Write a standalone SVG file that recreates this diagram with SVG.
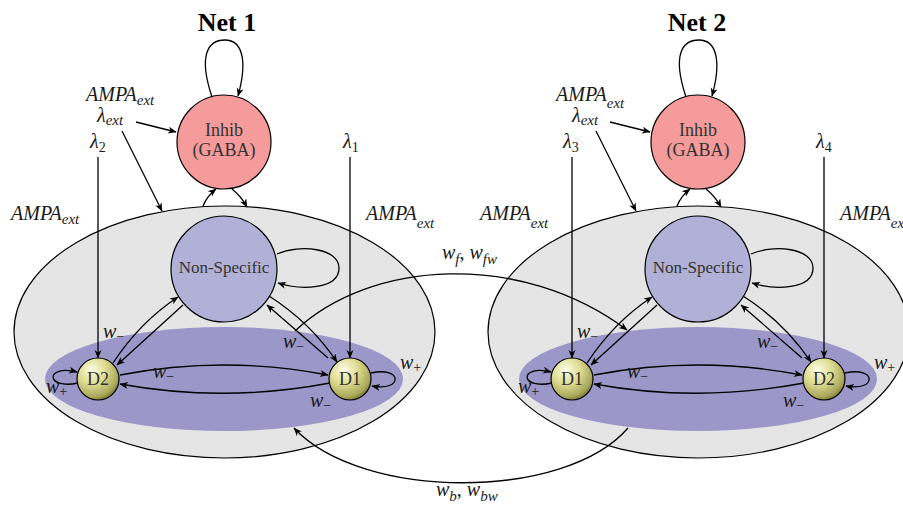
<svg xmlns="http://www.w3.org/2000/svg" width="903" height="507" viewBox="0 0 903 507">
<style>
.node{fill:#333;font-size:17px;text-anchor:middle}
.title{font-weight:bold;font-size:26px;text-anchor:middle;fill:#000}
.c{fill:none;stroke:#000;stroke-width:1.3;marker-end:url(#ah)}
.big{fill:#e5e5e5;stroke:#000;stroke-width:1.2}
.pool{fill:#9b97c9}
.ns{fill:#b1b0d6;stroke:#000;stroke-width:1.2}
.inh{fill:#f59b9b;stroke:#000;stroke-width:1.2}
.d{fill:url(#ball);stroke:#000;stroke-width:1.2}
</style>
<defs>
<marker id="ah" markerUnits="userSpaceOnUse" markerWidth="9" markerHeight="8" refX="8" refY="3.5" orient="auto">
<path d="M0,0 L8.5,3.5 L0,7 L2.5,3.5 Z" fill="#000"/>
</marker>
<radialGradient id="ball" cx="0.38" cy="0.32" r="0.72" fx="0.35" fy="0.28">
<stop offset="0" stop-color="#fdfde8"/>
<stop offset="0.45" stop-color="#dedd92"/>
<stop offset="0.85" stop-color="#a9a75a"/>
<stop offset="1" stop-color="#77752e"/>
</radialGradient>
</defs>

<g font-family="Liberation Serif, DejaVu Serif, serif" fill="#1a1a1a">
<g id="net1-pop">
<ellipse class="big" cx="224.5" cy="332" rx="210.5" ry="126"/>
</g>
<g id="net1-pool">
<ellipse class="pool" cx="224" cy="379" rx="179" ry="52"/>
</g>
<g id="net2-pop">
<ellipse class="big" cx="698.5" cy="332" rx="210.5" ry="126"/>
</g>
<g id="net2-pool">
<ellipse class="pool" cx="698" cy="379" rx="179" ry="52"/>
</g>

<g id="net1-ns">
<circle class="ns" cx="224" cy="269" r="53"/>
<text class="node" x="224" y="273">Non-Specific</text>
</g>
<g id="net1-inhib">
<circle class="inh" cx="224" cy="142" r="47"/>
<text class="node" x="224" y="136" style="font-size:18px">Inhib</text>
<text class="node" x="224" y="156" style="font-size:18px">(GABA)</text>
</g>
<g id="net1-d2">
<circle class="d" cx="98" cy="379" r="21"/>
<text class="node" x="98" y="385" style="font-size:18px">D2</text>
</g>
<g id="net1-d1">
<circle class="d" cx="350" cy="379" r="21"/>
<text class="node" x="350" y="385" style="font-size:18px">D1</text>
</g>

<g id="net2-ns">
<circle class="ns" cx="698" cy="269" r="53"/>
<text class="node" x="698" y="273">Non-Specific</text>
</g>
<g id="net2-inhib">
<circle class="inh" cx="698" cy="142" r="47"/>
<text class="node" x="698" y="136" style="font-size:18px">Inhib</text>
<text class="node" x="698" y="156" style="font-size:18px">(GABA)</text>
</g>
<g id="net2-d1">
<circle class="d" cx="572" cy="379" r="21"/>
<text class="node" x="572" y="385" style="font-size:18px">D1</text>
</g>
<g id="net2-d2">
<circle class="d" cx="824" cy="379" r="21"/>
<text class="node" x="824" y="385" style="font-size:18px">D2</text>
</g>

<g id="connectors">
<path class="c" d="M212,97 C198,55 208,40 225,40 C242,40 248,60 238,96"/>
<path class="c" d="M136,122 L176,132"/>
<path class="c" d="M122,131 L162,211"/>
<path class="c" d="M203,206 Q207,196 216,189"/>
<path class="c" d="M232,189 Q241,196 247,207"/>
<path class="c" d="M98,157 L98,358"/>
<path class="c" d="M350,157 L350,358"/>
<path class="c" d="M277,254 C300,244 339,248 339,268 C339,290 300,290 278,283"/>
<path class="c" d="M113,363 Q140,322 178,297"/>
<path class="c" d="M183,305 L117,365"/>
<path class="c" d="M269,296 Q310,322 337,362"/>
<path class="c" d="M328,358 L267,305"/>
<path class="c" d="M120,375 Q224,355 328,375"/>
<path class="c" d="M330,383 Q224,403 120,384"/>
<path class="c" d="M78,383 C45,390 45,364 77,372"/>
<path class="c" d="M371,373 C403,366 403,392 372,386"/>
<path class="c" d="M686,97 C672,55 682,40 699,40 C716,40 722,60 712,96"/>
<path class="c" d="M610,122 L650,132"/>
<path class="c" d="M596,131 L636,211"/>
<path class="c" d="M677,206 Q681,196 690,189"/>
<path class="c" d="M706,189 Q715,196 721,207"/>
<path class="c" d="M572,157 L572,358"/>
<path class="c" d="M824,157 L824,358"/>
<path class="c" d="M751,254 C774,244 813,248 813,268 C813,290 774,290 752,283"/>
<path class="c" d="M587,363 Q614,322 652,297"/>
<path class="c" d="M657,305 L591,365"/>
<path class="c" d="M743,296 Q784,322 811,362"/>
<path class="c" d="M802,358 L741,305"/>
<path class="c" d="M594,375 Q698,355 802,375"/>
<path class="c" d="M804,383 Q698,403 594,384"/>
<path class="c" d="M552,383 C519,390 519,364 551,372"/>
<path class="c" d="M845,373 C877,366 877,392 846,386"/>
<path class="c" d="M295,331 C370,260 520,250 627,330"/>
<path class="c" d="M628,428 C565,501 362,501 294,428"/>
</g>

<g id="labels" font-style="italic" font-size="20">
<text class="title" x="227" y="31" font-style="normal">Net 1</text>
<text class="title" x="697" y="31" font-style="normal">Net 2</text>

<text x="86" y="101">AMPA<tspan font-size="15" dy="4">ext</tspan></text>
<text x="97" y="122">λ<tspan font-size="15" dy="3">ext</tspan></text>
<text x="90" y="148">λ<tspan font-size="14" font-style="normal" dy="4">2</tspan></text>
<text x="343" y="148">λ<tspan font-size="14" font-style="normal" dy="4">1</tspan></text>
<text x="11" y="220">AMPA<tspan font-size="15" dy="4">ext</tspan></text>
<text x="366" y="220">AMPA<tspan font-size="15" dy="8">ext</tspan></text>
<text x="103" y="338">w<tspan font-size="14" font-style="normal" dy="3">−</tspan></text>
<text x="153" y="378">w<tspan font-size="14" font-style="normal" dy="3">−</tspan></text>
<text x="283" y="348">w<tspan font-size="14" font-style="normal" dy="3">−</tspan></text>
<text x="310" y="407">w<tspan font-size="14" font-style="normal" dy="3">−</tspan></text>
<text x="46" y="393">w<tspan font-size="14" font-style="normal" dy="3">+</tspan></text>
<text x="400" y="369">w<tspan font-size="14" font-style="normal" dy="3">+</tspan></text>

<text x="556" y="101">AMPA<tspan font-size="15" dy="7">ext</tspan></text>
<text x="572" y="122">λ<tspan font-size="15" dy="3">ext</tspan></text>
<text x="563" y="148">λ<tspan font-size="14" font-style="normal" dy="4">3</tspan></text>
<text x="816" y="148">λ<tspan font-size="14" font-style="normal" dy="4">4</tspan></text>
<text x="480" y="220">AMPA<tspan font-size="15" dy="8">ext</tspan></text>
<text x="840" y="220">AMPA<tspan font-size="15" dy="8">ext</tspan></text>
<text x="577" y="338">w<tspan font-size="14" font-style="normal" dy="3">−</tspan></text>
<text x="627" y="378">w<tspan font-size="14" font-style="normal" dy="3">−</tspan></text>
<text x="757" y="348">w<tspan font-size="14" font-style="normal" dy="3">−</tspan></text>
<text x="783" y="407">w<tspan font-size="14" font-style="normal" dy="3">−</tspan></text>
<text x="518" y="393">w<tspan font-size="14" font-style="normal" dy="3">+</tspan></text>
<text x="874" y="369">w<tspan font-size="14" font-style="normal" dy="3">+</tspan></text>

<text x="442" y="259">w<tspan font-size="15" dy="5">f</tspan><tspan dy="-5" font-style="normal">, </tspan>w<tspan font-size="15" dy="5">fw</tspan></text>
<text x="436" y="496">w<tspan font-size="15" dy="5">b</tspan><tspan dy="-5" font-style="normal">, </tspan>w<tspan font-size="15" dy="5">bw</tspan></text>
</g>
</g>
</svg>
